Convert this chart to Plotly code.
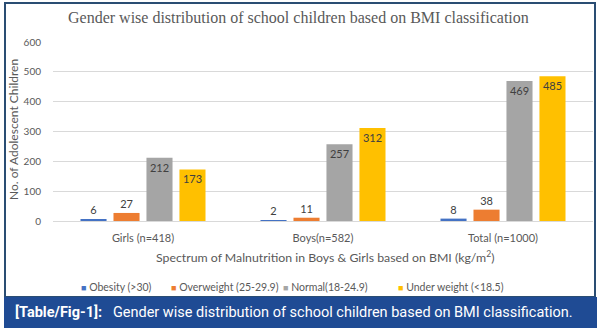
import plotly.graph_objects as go

categories = ["Girls (n=418)", "Boys(n=582)", "Total (n=1000)"]
series_names = ["Obesity (>30)", "Overweight (25-29.9)", "Normal(18-24.9)", "Under weight (<18.5)"]
obesity = [6, 2, 8]
overweight = [27, 11, 38]
normal = [212, 257, 469]
underweight = [173, 312, 485]
y_ticks = [0, 100, 200, 300, 400, 500, 600]

colors = ["#4472c4", "#ed7d31", "#a5a5a5", "#ffc000"]
series_values = [obesity, overweight, normal, underweight]
legend_x_px = [79, 169, 281, 396]

W, H = 601, 329
L, R, T, B = 53, 8, 42, 108
pw = W - L - R
ph = H - T - B

def px_x(x):
    return (x - L) / pw

def px_y(y):
    return (H - B - y) / ph

FONT = "Lato, Open Sans, sans-serif"

fig = go.Figure()
for name, vals, col in zip(series_names, series_values, colors):
    pos = ["inside" if v > 100 else "outside" for v in vals]
    fig.add_trace(go.Bar(
        x=categories, y=vals, name=name, marker_color=col,
        marker_line_width=0,
        text=[str(v) for v in vals], textposition=pos,
        insidetextanchor="end", textangle=0,
        constraintext="none",
        textfont=dict(family=FONT, size=11, color="#404040"),
        cliponaxis=False, showlegend=False,
    ))

fig.update_layout(
    width=W, height=H,
    margin=dict(l=L, r=R, t=T, b=B, pad=0),
    paper_bgcolor="white", plot_bgcolor="white",
    barmode="group", bargap=0.267, bargroupgap=0.21,
    showlegend=False,
    font=dict(family=FONT, size=10, color="#595959"),
)
fig.update_xaxes(showgrid=False, showline=True, linecolor="#d9d9d9", linewidth=1,
                 ticks="", tickfont=dict(size=11, color="#595959"), ticklabelstandoff=7)
fig.update_yaxes(range=[0, 600], tickvals=y_ticks, showgrid=True, gridcolor="#d9d9d9",
                 gridwidth=1, zeroline=False, showline=False, ticks="",
                 tickfont=dict(size=10, color="#595959"), ticklabelstandoff=11)

# Legend entries (drawn from the series names and colours)
for name, col, lx in zip(series_names, colors, legend_x_px):
    fig.add_annotation(text=f"<span style='color:{col};font-size:9px'>■</span> {name}",
                       xref="paper", yref="paper", x=px_x(lx), y=px_y(287),
                       xanchor="left", yanchor="middle", showarrow=False,
                       font=dict(family=FONT, size=10.5, color="#595959"))

# Frame around chart
fig.add_shape(type="rect", xref="paper", yref="paper",
              x0=px_x(5), x1=px_x(595), y0=px_y(297), y1=px_y(3),
              line=dict(color="#2a4d73", width=2), fillcolor="rgba(0,0,0,0)", layer="below")
# Caption bar
fig.add_shape(type="rect", xref="paper", yref="paper",
              x0=px_x(4), x1=px_x(597), y0=px_y(328), y1=px_y(297),
              line=dict(width=0), fillcolor="#1f4b94", layer="above")

fig.add_annotation(text="Gender wise distribution of school children based on BMI classification",
                   xref="paper", yref="paper", x=px_x(298), y=px_y(17),
                   xanchor="center", yanchor="middle", showarrow=False,
                   font=dict(family="Liberation Serif, Times New Roman, serif", size=16, color="#595959"))
fig.add_annotation(text="No. of Adolescent Children", xref="paper", yref="paper",
                   x=px_x(13), y=px_y(130), textangle=-90, xanchor="center", yanchor="middle",
                   showarrow=False, font=dict(size=12, color="#595959"))
fig.add_annotation(text="Spectrum of Malnutrition in Boys & Girls based on BMI (kg/m<sup>2</sup>)",
                   xref="paper", yref="paper", x=px_x(325), y=px_y(257),
                   xanchor="center", yanchor="middle", showarrow=False,
                   font=dict(size=12.3, color="#595959"))
fig.add_annotation(text="<b>[Table/Fig-1]:</b>   Gender wise distribution of school children based on BMI classification.",
                   xref="paper", yref="paper", x=px_x(13), y=px_y(312),
                   xanchor="left", yanchor="middle", showarrow=False,
                   font=dict(family="Roboto, Liberation Sans, sans-serif", size=14.5, color="white"))

fig.write_html("out.html")
